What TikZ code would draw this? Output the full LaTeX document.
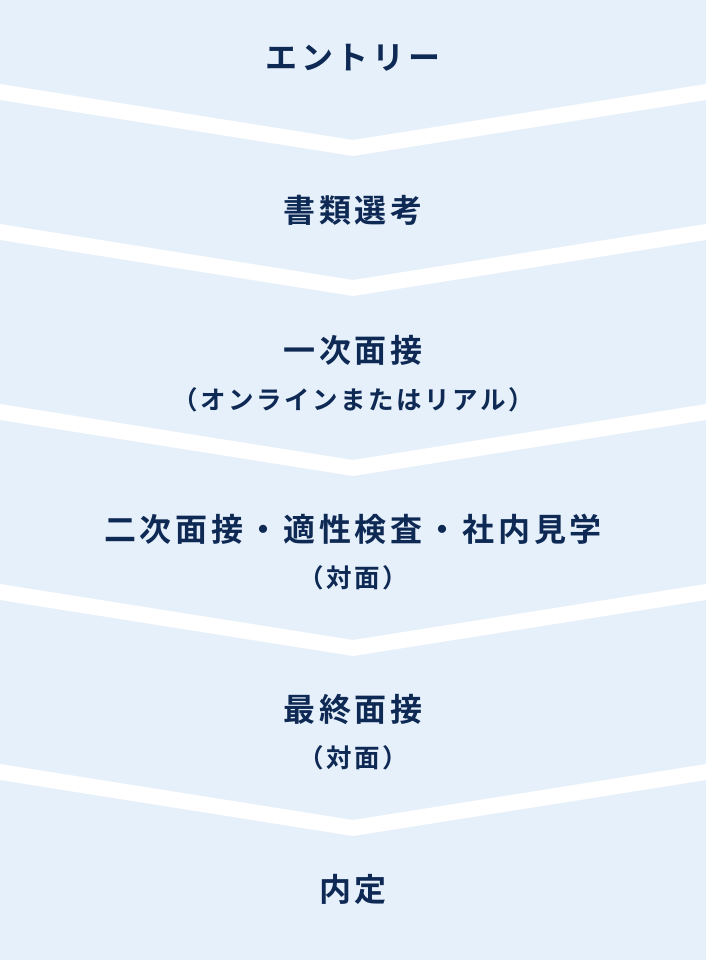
\documentclass[tikz,border=0pt]{standalone}
\usepackage{fontspec}
\usepackage{tikz}
\newfontfamily\jptitle{Noto Sans CJK JP Bold}[LetterSpace=12]
\newfontfamily\jpnote{Noto Sans CJK JP Bold}[LetterSpace=10]
\definecolor{panelblue}{RGB}{230, 240, 251}
\definecolor{stepnavy}{RGB}{14, 42, 84}
\tikzset{
  steptitle/.style={font=\jptitle\fontsize{32}{38}\selectfont, text=stepnavy, inner sep=0pt},
  stepnote/.style={font=\jpnote\fontsize{25.5}{30}\selectfont, text=stepnavy, inner sep=0pt}
}

\begin{document}
\begin{tikzpicture}[x=1pt,y=-1pt]
            \fill[panelblue] (0,0) rectangle (706,960);
            % white chevron gaps between the steps
            \foreach \ye in {84,224,404,584,764}
                \fill[white] (0,\ye) -- (353,\ye+56) -- (706,\ye) -- (706,\ye+16) -- (353,\ye+72) -- (0,\ye+16) -- cycle;

            \node[steptitle] (entry) at (353,58) {エントリー};
            \node[steptitle] (screening) at (353,210) {書類選考};
            \node[steptitle] (first) at (353,350) {一次面接};
            \node[stepnote] (first-note) at (353,400) {（オンラインまたはリアル）};
            \node[steptitle] (second) at (353,529) {二次面接・適性検査・社内見学};
            \node[stepnote] (second-note) at (353,578) {（対面）};
            \node[steptitle] (final) at (353,709) {最終面接};
            \node[stepnote] (final-note) at (353,758) {（対面）};
            \node[steptitle] (offer) at (353,889) {内定};
        \end{tikzpicture}
\end{document}
